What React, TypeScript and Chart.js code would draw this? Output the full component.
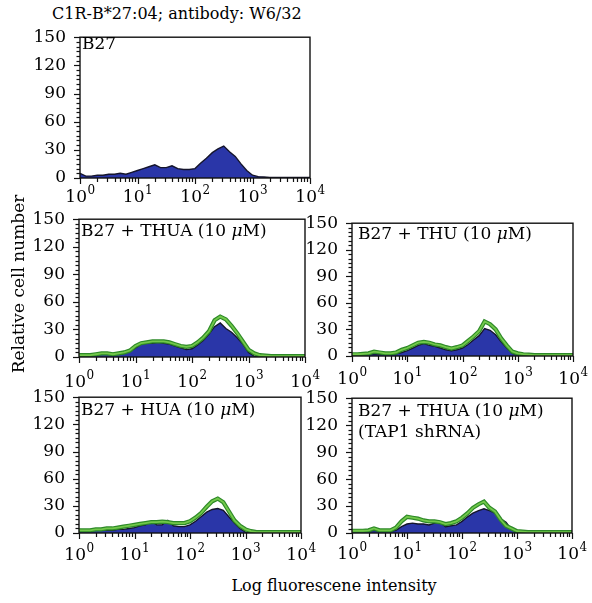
import React, { useEffect, useRef } from 'react';
import { Chart, registerables } from 'chart.js';

Chart.register(...registerables);

// ---------- data ----------
const BINS = [
  1, 1.26, 1.58, 2, 2.51, 3.16, 3.98, 5.01, 6.31, 7.94,
  10, 12.6, 15.8, 20, 25.1, 31.6, 39.8, 50.1, 63.1, 79.4,
  100, 126, 158, 200, 251, 316, 398, 501, 631, 794,
  1000, 1260, 1580, 2000, 2510, 3160, 3980, 5010, 6310, 7940, 10000,
];

const B27_BLUE = [
  5, 2, 2, 3, 3, 4, 4, 5, 4, 6,
  8, 10, 12, 14, 11, 11, 13, 10, 9, 9,
  10, 16, 21, 27, 31, 34, 28, 23, 15, 8,
  3, 1.5, 1, 0.5, 0.5, 0.5, 0.5, 0.5, 0.5, 0.5, 0.5,
];

const THUA_BLUE = [
  3, 2, 2, 2, 3, 4, 3, 3, 4, 6,
  10, 14, 15, 15, 16, 15, 14, 12, 10, 8,
  9, 13, 18, 25, 33, 37, 31, 27, 21, 14,
  5, 1, 0.5, 0.3, 0.3, 0.3, 0.3, 0.3, 0.3, 0.3, 0.3,
];
const THUA_GREEN = [
  2, 2, 2, 3, 4, 4, 3, 4, 5, 7,
  12, 15, 16, 17, 17, 17, 16, 14, 12, 11,
  12, 16, 21, 28, 40, 44, 41, 34, 26, 17,
  8, 4, 2, 1.5, 1, 1, 1, 1, 1, 1, 1,
];

const THU_BLUE = [
  1, 1, 1.5, 2, 2.5, 2, 2, 2, 2.5, 4,
  6, 9, 12, 14, 12, 11, 9, 7, 6, 7,
  9, 13, 18, 23, 31, 29, 24, 16, 9, 3,
  1, 0.5, 0.3, 0.3, 0.3, 0.3, 0.3, 0.3, 0.3, 0.3, 0.3,
];
const THU_GREEN = [
  2, 2, 2.5, 3, 5, 4, 3, 3, 4, 7,
  9, 12, 15, 16, 15, 13, 12, 10, 8.5, 10,
  12, 17, 22, 28, 39, 36, 30, 20, 12, 5,
  3, 2, 1.5, 1, 1, 1, 1, 1, 1, 1, 1,
];

const HUA_BLUE = [
  4, 3, 3, 3, 3, 3, 3, 4, 4, 5,
  6, 8, 9, 13, 9, 9, 14, 8, 7, 7,
  9, 13, 18, 23, 26, 27, 25, 18, 11, 5,
  1, 0.5, 0.3, 0.3, 0.3, 0.3, 0.3, 0.3, 0.3, 0.3, 0.3,
];
const HUA_GREEN = [
  3, 3, 3, 4, 4, 5, 5, 6, 7, 8,
  9, 10, 11, 12, 12, 12.5, 12, 11, 11, 11,
  13, 17, 22, 29, 35, 38, 34, 24, 14, 8,
  4, 2, 1, 1, 1, 1, 1, 1, 1, 1, 1,
];

const SH_BLUE = [
  2, 2, 2, 2, 3, 2, 2, 2, 3, 7,
  10, 11, 10, 10, 9, 11, 12, 7, 8, 9,
  13, 18, 22, 25, 27, 25, 22, 16, 12, 4,
  1, 0.5, 0.3, 0.3, 0.3, 0.3, 0.3, 0.3, 0.3, 0.3, 0.3,
];
const SH_GREEN = [
  2.5, 2.5, 2.5, 3, 5, 3, 3, 3, 6, 13,
  18, 17, 16, 14, 13, 13, 12, 10, 11, 13,
  17, 22, 28, 32, 35, 28, 24, 15, 8, 5,
  2, 1.5, 1, 1, 1, 1, 1, 1, 1, 1, 1,
];

const X_TICK_VALUES = [1, 10, 100, 1000, 10000];
const X_TICK_BASE = '10';
const X_TICK_EXPONENTS = ['0', '1', '2', '3', '4'];
const X_MINOR_MULTIPLIERS = [2, 3, 4, 5, 6, 7, 8, 9];
const Y_MIN = 0;
const Y_MAX = 150;
const Y_STEP = 30;
const Y_MINOR_STEP = 5;

const TITLE = 'C1R-B*27:04; antibody: W6/32';
const Y_TITLE = 'Relative cell number';
const X_TITLE = 'Log fluorescene intensity';

// ---------- layout / style ----------
const FONT = '"DejaVu Serif", "Liberation Serif", serif';
const YW = 50;
const PT = 14;
const PR = 18;
const XH = 36;

type PanelCfg = {
  left: number; top: number; right: number; bottom: number;
  labelOffset: number; textDx: number; textDy: number;
  lines: React.ReactNode[];
  blue: number[]; green: number[] | null;
};

const mu = <i>μ</i>;

const PANELS: PanelCfg[] = [
  { left: 80, top: 35, right: 310, bottom: 178, labelOffset: 24, textDx: 2, textDy: 2,
    lines: ['B27'], blue: B27_BLUE, green: null },
  { left: 79, top: 217, right: 305, bottom: 357, labelOffset: 30, textDx: 2, textDy: 7,
    lines: [<>B27 + THUA (10 {mu}M)</>], blue: THUA_BLUE, green: THUA_GREEN },
  { left: 352, top: 221, right: 573, bottom: 356, labelOffset: 28, textDx: 6, textDy: 6,
    lines: [<>B27 + THU (10 {mu}M)</>], blue: THU_BLUE, green: THU_GREEN },
  { left: 79, top: 395, right: 301, bottom: 533, labelOffset: 27, textDx: 2, textDy: 8,
    lines: [<>B27 + HUA (10 {mu}M)</>], blue: HUA_BLUE, green: HUA_GREEN },
  { left: 352, top: 396, right: 572, bottom: 533, labelOffset: 26, textDx: 6, textDy: 8,
    lines: [<>B27 + THUA (10 {mu}M)</>, '(TAP1 shRNA)'], blue: SH_BLUE, green: SH_GREEN },
];

const framePlugin = {
  id: 'frame',
  afterDraw(chart: any, _args: any, opts: any) {
    const { ctx, chartArea: a } = chart;
    const xs = chart.scales.x;
    const ys = chart.scales.y;
    ctx.save();
    ctx.strokeStyle = '#111111';
    ctx.lineWidth = 1.4;
    ctx.strokeRect(a.left, a.top, a.right - a.left, a.bottom - a.top);
    ctx.lineWidth = 1.2;
    const line = (x1: number, y1: number, x2: number, y2: number) => {
      ctx.beginPath();
      ctx.moveTo(x1, y1);
      ctx.lineTo(x2, y2);
      ctx.stroke();
    };
    X_TICK_VALUES.forEach((dec, i) => {
      const px = Math.round(xs.getPixelForValue(dec)) + 0.5;
      line(px, a.bottom, px, a.bottom + 6);
      if (i < X_TICK_VALUES.length - 1) {
        X_MINOR_MULTIPLIERS.forEach((m) => {
          const p = Math.round(xs.getPixelForValue(dec * m)) + 0.5;
          line(p, a.bottom, p, a.bottom + 4);
        });
      }
    });
    for (let v = Y_MIN; v <= Y_MAX; v += Y_MINOR_STEP) {
      const py = Math.round(ys.getPixelForValue(v)) + 0.5;
      const len = v % Y_STEP === 0 ? 6 : 3.5;
      line(a.left - len, py, a.left, py);
    }
    // x tick labels with superscript exponents
    ctx.fillStyle = '#000';
    ctx.textBaseline = 'alphabetic';
    ctx.textAlign = 'left';
    const baseY = a.bottom + (opts.labelOffset || 26);
    X_TICK_VALUES.forEach((dec, i) => {
      const px = xs.getPixelForValue(dec);
      ctx.font = `17px ${FONT}`;
      const wb = ctx.measureText(X_TICK_BASE).width;
      ctx.font = `12px ${FONT}`;
      const we = ctx.measureText(X_TICK_EXPONENTS[i]).width;
      const sx = px - (wb + we) / 2;
      ctx.font = `17px ${FONT}`;
      ctx.fillText(X_TICK_BASE, sx, baseY);
      ctx.font = `12px ${FONT}`;
      ctx.fillText(X_TICK_EXPONENTS[i], sx + wb + 0.5, baseY - 8);
    });
    ctx.restore();
  },
};

const toPts = (vals: number[]) => BINS.map((x, i) => ({ x, y: vals[i] }));

function Panel({ cfg }: { cfg: PanelCfg }) {
  const ref = useRef<HTMLCanvasElement>(null);
  const W = cfg.right - cfg.left + YW + PR;
  const H = cfg.bottom - cfg.top + PT + XH;
  useEffect(() => {
    const datasets: any[] = [];
    if (cfg.green) {
      datasets.push({
        data: toPts(cfg.green), borderColor: '#72c84a', borderWidth: 1.8,
        fill: false, order: 0, pointRadius: 0, tension: 0,
      });
      datasets.push({
        data: toPts(cfg.green), borderColor: '#2e8a28', borderWidth: 4.2,
        fill: false, order: 1, pointRadius: 0, tension: 0,
      });
    }
    datasets.push({
      data: toPts(cfg.blue), borderColor: '#15152c', borderWidth: 1.4,
      backgroundColor: '#2a36a8', fill: 'origin', order: 2, pointRadius: 0, tension: 0,
    });
    const chart = new Chart(ref.current as HTMLCanvasElement, {
      type: 'line',
      data: { datasets },
      options: {
        animation: false,
        responsive: false,
        devicePixelRatio: 1,
        layout: { padding: { top: PT, right: PR, left: 0, bottom: 0 } },
        plugins: {
          legend: { display: false },
          tooltip: { enabled: false },
          // @ts-ignore
          frame: { labelOffset: cfg.labelOffset },
        },
        scales: {
          x: {
            type: 'logarithmic', min: 1, max: 10000,
            grid: { display: false }, border: { display: false },
            ticks: { display: false },
            afterFit: (s: any) => { s.height = XH; },
          },
          y: {
            min: Y_MIN, max: Y_MAX,
            grid: { display: false }, border: { display: false },
            ticks: { stepSize: Y_STEP, color: '#000', padding: 6, font: { family: FONT, size: 17 } },
            afterFit: (s: any) => { s.width = YW; },
          },
        },
      } as any,
      plugins: [framePlugin],
    });
    return () => chart.destroy();
  }, []);
  return (
    <>
      <canvas
        ref={ref}
        width={W}
        height={H}
        style={{ position: 'absolute', left: cfg.left - YW, top: cfg.top - PT, width: W, height: H }}
      />
      <div
        style={{
          position: 'absolute', left: cfg.left + cfg.textDx, top: cfg.top + cfg.textDy - 4,
          font: `17px ${FONT}`, lineHeight: '21px', color: '#000', whiteSpace: 'nowrap',
        }}
      >
        {cfg.lines.map((l, i) => <div key={i}>{l}</div>)}
      </div>
    </>
  );
}

export default function App() {
  return (
    <div
      style={{
        position: 'absolute', left: 0, top: 0, width: 592, height: 603,
        overflow: 'hidden', background: '#fff', fontFamily: FONT,
      }}
    >
      <div style={{ position: 'absolute', left: 52, top: 4, font: `16px ${FONT}`, lineHeight: '20px', whiteSpace: 'nowrap' }}>
        {TITLE}
      </div>
      {PANELS.map((p, i) => <Panel key={i} cfg={p} />)}
      <div
        style={{
          position: 'absolute', left: 18, top: 284, font: `17px ${FONT}`, lineHeight: '20px',
          whiteSpace: 'nowrap', transform: 'translate(-50%, -50%) rotate(-90deg)',
        }}
      >
        {Y_TITLE}
      </div>
      <div
        style={{
          position: 'absolute', left: 334, top: 576, font: `16px ${FONT}`, lineHeight: '20px',
          whiteSpace: 'nowrap', transform: 'translateX(-50%)',
        }}
      >
        {X_TITLE}
      </div>
    </div>
  );
}
